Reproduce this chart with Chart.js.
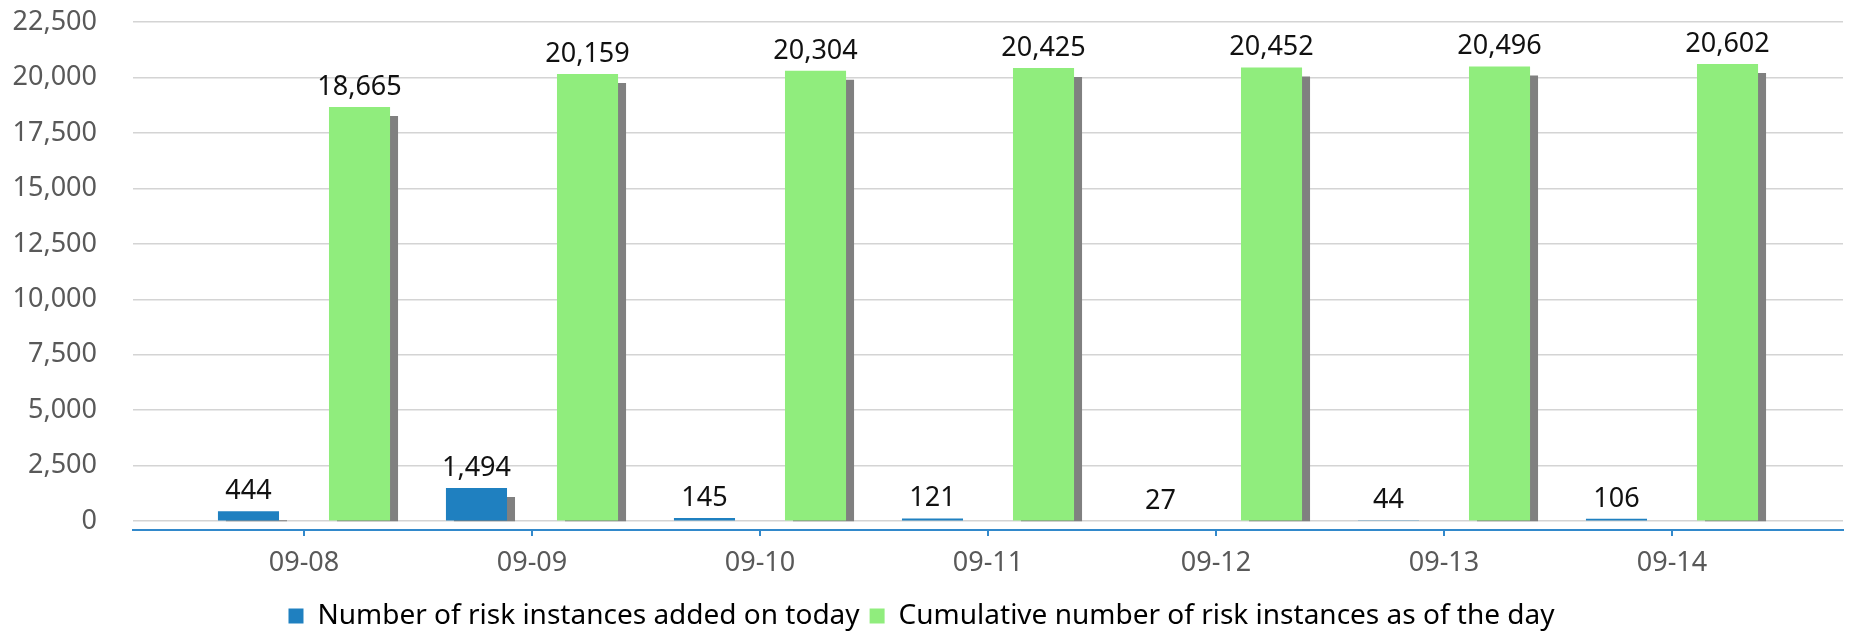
<!DOCTYPE html>
<html>
<head>
<meta charset="utf-8">
<script src="https://cdn.jsdelivr.net/npm/chart.js@4.4.1/dist/chart.umd.min.js"></script>
<style>
	html, body { margin: 0; padding: 0; background: #fff; }
	#wrap { position: relative; width: 1855px; height: 640px; }
</style>
</head>
<body>
<div id="wrap"><canvas id="chart"></canvas></div>
<script>
const days = ['09-08', '09-09', '09-10', '09-11', '09-12', '09-13', '09-14'];
const addedToday = [444, 1494, 145, 121, 27, 44, 106];
const cumulative = [18665, 20159, 20304, 20425, 20452, 20496, 20602];
const yTickValues = [0, 2500, 5000, 7500, 10000, 12500, 15000, 17500, 20000, 22500];
const seriesNames = [
	'Number of risk instances added on today',
	'Cumulative number of risk instances as of the day'
];

const blue = '#1f80c0';
const green = '#90ed7d';
const axisBlue = '#3289cb';
const fontFamily = '"Noto Sans", "Open Sans", sans-serif';

// grey drop shadow right/below each bar, cut off at the zero line, then the value labels
const barExtras = {
	id: 'barExtras',
	beforeDatasetsDraw(chart) {
		const ctx = chart.ctx;
		const area = chart.chartArea;
		const zero = chart.scales.y.getPixelForValue(0);
		ctx.save();
		ctx.beginPath();
		ctx.rect(area.left, area.top, area.right - area.left, zero - area.top);
		ctx.clip();
		ctx.shadowColor = '#808080';
		ctx.shadowBlur = 0;
		ctx.shadowOffsetX = 8;
		ctx.shadowOffsetY = 9;
	},
	afterDatasetsDraw(chart) {
		const ctx = chart.ctx;
		ctx.restore();
		ctx.save();
		ctx.font = '27px ' + fontFamily;
		ctx.fillStyle = '#111';
		ctx.textAlign = 'center';
		ctx.textBaseline = 'alphabetic';
		chart.data.datasets.forEach(function (ds, i) {
			chart.getDatasetMeta(i).data.forEach(function (bar, j) {
				ctx.fillText(ds.data[j].y.toLocaleString('en-US'), bar.x, bar.y - 12);
			});
		});
		ctx.restore();
	}
};

document.addEventListener("DOMContentLoaded", function () {
	const ctx = document.querySelector("#chart").getContext("2d");

	const data = {
		datasets: [{
			label: seriesNames[0],
			backgroundColor: blue,
			data: addedToday.map(function (v, i) { return { x: i, y: v }; }),
		}, {
			label: seriesNames[1],
			backgroundColor: green,
			data: cumulative.map(function (v, i) { return { x: i, y: v }; }),
		}]
	};

	const config = {
		type: 'bar',
		data: data,
		plugins: [barExtras],
		options: {
			responsive: true,
			maintainAspectRatio: false,
			animation: false,
			categoryPercentage: 0.974,
			barPercentage: 0.55,
			layout: { padding: { top: 22, right: 12, left: 0, bottom: 0 } },
			plugins: {
				tooltip: { enabled: false },
				legend: {
					position: 'bottom',
					labels: {
						boxWidth: 15,
						boxHeight: 15,
						padding: 10,
						color: '#000',
						font: { family: fontFamily, size: 28 }
					}
				}
			},
			scales: {
				x: {
					type: 'linear',
					min: -0.75,
					max: 6.75,
					offset: false,
					grid: { offset: false, drawOnChartArea: false, drawTicks: true, tickLength: 6, color: axisBlue, lineWidth: 2 },
					border: { color: axisBlue, width: 2 },
					ticks: {
						stepSize: 1,
						includeBounds: false,
						autoSkip: false,
						maxRotation: 0,
						padding: 11,
						color: '#595959',
						font: { family: fontFamily, size: 27 },
						callback: function (v) { return days[v]; }
					},
					afterFit: function (s) { s.height = 62; s.paddingLeft = 0; s.paddingRight = 0; }
				},
				y: {
					min: -400,
					max: 22500,
					grid: { color: '#d4d4d4', lineWidth: 1.5, drawTicks: false },
					border: { display: false },
					afterBuildTicks: function (s) {
						s.ticks = yTickValues.map(function (v) { return { value: v }; });
					},
					ticks: {
						padding: 36,
						color: '#595959',
						font: { family: fontFamily, size: 27 },
						callback: function (v) { return v.toLocaleString('en-US'); }
					},
					afterFit: function (s) { s.width = 133; s.paddingTop = 0; s.paddingBottom = 0; }
				}
			}
		}
	};

	new Chart(ctx, config);
});
</script>
</body>
</html>
